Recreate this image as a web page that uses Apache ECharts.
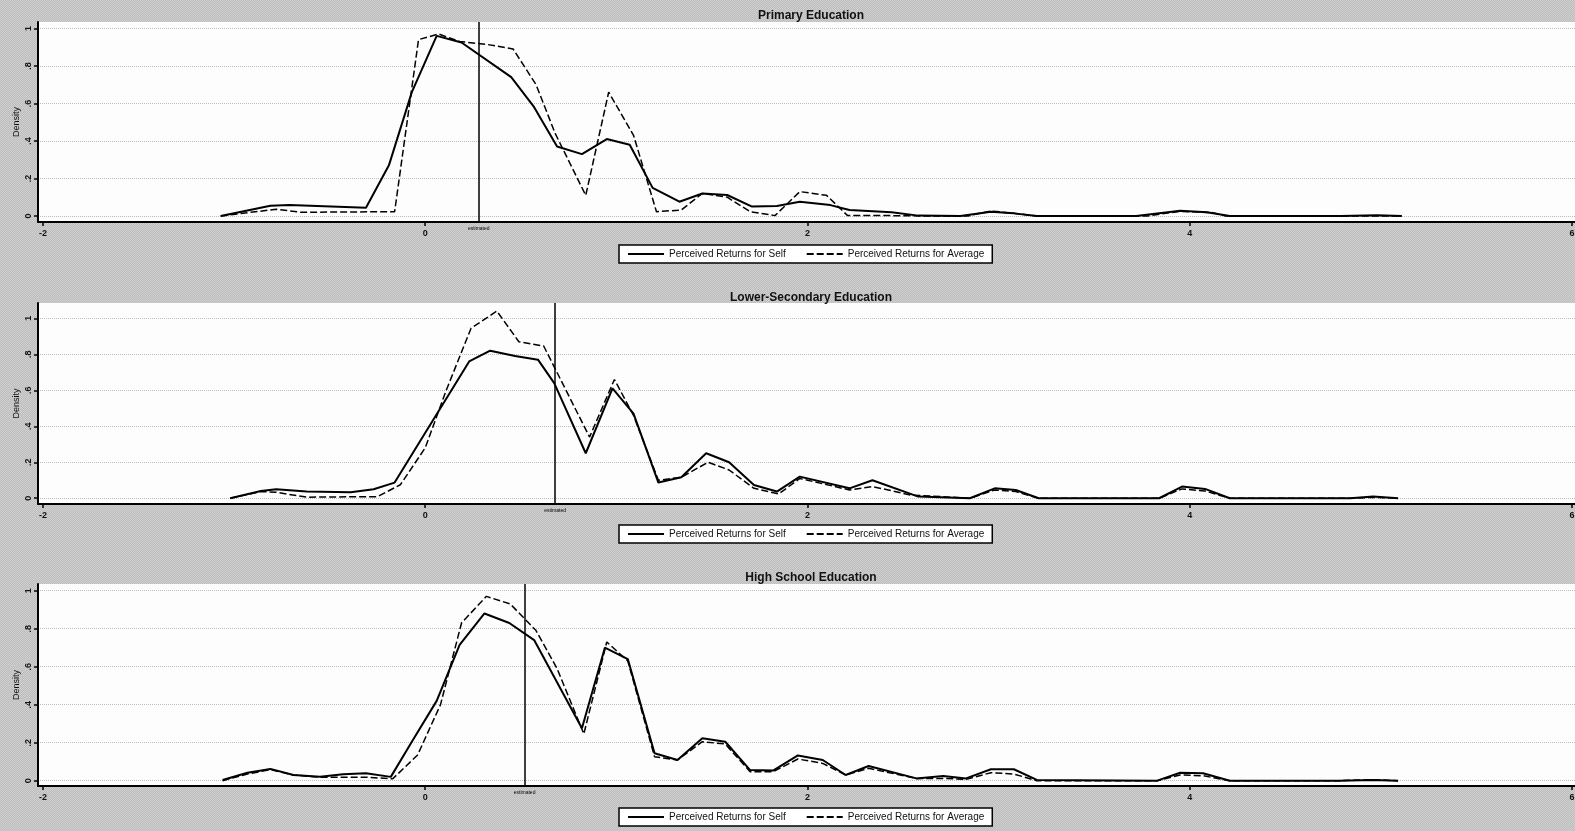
<!DOCTYPE html>
<html><head><meta charset="utf-8">
<script src="https://cdn.jsdelivr.net/npm/echarts@6/dist/echarts.min.js"></script>
<style>
html,body{margin:0;padding:0;width:1575px;height:831px;overflow:hidden;
background-color:#c6c6c6;
background-image:repeating-conic-gradient(#bcbcbc 0 25%, #d0d0d0 0 50%);
background-size:2px 2px;}
#chart{width:1575px;height:831px;}
</style></head><body><div id="chart"></div>
<script>
// ---------------- data ----------------
const panelTitles = ['Primary Education', 'Lower-Secondary Education', 'High School Education'];
const seriesNames = ['Perceived Returns for Self', 'Perceived Returns for Average'];
const xTickValues = [-2, 0, 2, 4, 6];
const yTickValues = [0, 0.2, 0.4, 0.6, 0.8, 1];
const yTickLabels = ['0', '.2', '.4', '.6', '.8', '1'];
const estimatedX = [0.277, 0.675, 0.52];
const estimatedLabel = 'estimated';
const yAxisName = 'Density';

const primarySelf = [[-1.07,0.0],[-0.81,0.055],[-0.71,0.058],[-0.31,0.044],[-0.19,0.27],[-0.07,0.66],[0.06,0.96],[0.19,0.925],[0.45,0.74],[0.57,0.58],[0.69,0.37],[0.82,0.33],[0.95,0.41],[1.07,0.38],[1.19,0.15],[1.33,0.076],[1.45,0.12],[1.58,0.112],[1.71,0.05],[1.84,0.053],[1.96,0.076],[2.12,0.058],[2.22,0.032],[2.44,0.02],[2.58,0.002],[2.80,0.0],[2.96,0.023],[3.08,0.014],[3.2,0.0],[3.72,0.0],[3.95,0.028],[4.09,0.02],[4.21,0.0],[4.79,0.0],[4.98,0.004],[5.11,0.0]];
const primaryAverage = [[-1.07,0.0],[-0.78,0.036],[-0.65,0.02],[-0.16,0.023],[-0.035,0.94],[0.07,0.97],[0.18,0.93],[0.32,0.915],[0.46,0.89],[0.58,0.70],[0.68,0.44],[0.84,0.11],[0.96,0.66],[1.09,0.43],[1.21,0.023],[1.34,0.032],[1.45,0.12],[1.58,0.10],[1.70,0.023],[1.83,0.002],[1.96,0.13],[2.10,0.11],[2.21,0.002],[2.44,0.002],[2.66,0.0],[2.84,0.0],[2.96,0.027],[3.08,0.014],[3.2,0.0],[3.78,0.0],[3.95,0.025],[4.12,0.018],[4.19,0.0],[5.11,0.0]];
const lowerSecSelf = [[-1.02,0],[-0.86,0.04],[-0.78,0.05],[-0.62,0.037],[-0.39,0.033],[-0.27,0.05],[-0.16,0.087],[0.23,0.76],[0.34,0.82],[0.47,0.79],[0.59,0.77],[0.675,0.64],[0.84,0.25],[0.98,0.61],[1.09,0.47],[1.22,0.087],[1.34,0.117],[1.47,0.25],[1.59,0.20],[1.72,0.074],[1.84,0.037],[1.96,0.12],[2.22,0.055],[2.34,0.10],[2.58,0.009],[2.85,0],[2.98,0.055],[3.09,0.046],[3.21,0],[3.84,0],[3.96,0.065],[4.08,0.052],[4.21,0],[4.84,0],[4.96,0.009],[5.09,0]];
const lowerSecAverage = [[-1.02,0],[-0.86,0.037],[-0.78,0.033],[-0.62,0.006],[-0.25,0.009],[-0.13,0.075],[0.0,0.28],[0.11,0.60],[0.24,0.945],[0.375,1.04],[0.49,0.87],[0.62,0.846],[0.86,0.34],[0.99,0.66],[1.09,0.46],[1.22,0.10],[1.34,0.117],[1.48,0.20],[1.59,0.157],[1.72,0.055],[1.85,0.024],[1.96,0.11],[2.22,0.046],[2.34,0.065],[2.54,0.018],[2.85,0],[2.98,0.046],[3.09,0.037],[3.21,0],[3.84,0],[3.96,0.052],[4.08,0.04],[4.21,0],[4.84,0],[4.96,0.005],[5.09,0]];
const highSchoolSelf = [[-1.06,0.004],[-0.93,0.042],[-0.81,0.062],[-0.69,0.03],[-0.55,0.021],[-0.43,0.034],[-0.31,0.039],[-0.18,0.02],[-0.07,0.205],[0.06,0.42],[0.18,0.715],[0.31,0.88],[0.44,0.83],[0.57,0.74],[0.82,0.276],[0.94,0.70],[1.06,0.64],[1.20,0.144],[1.32,0.109],[1.45,0.223],[1.57,0.205],[1.70,0.056],[1.82,0.053],[1.95,0.133],[2.08,0.109],[2.20,0.03],[2.32,0.077],[2.57,0.012],[2.71,0.025],[2.83,0.012],[2.96,0.06],[3.08,0.06],[3.20,0.004],[3.83,0],[3.95,0.042],[4.07,0.039],[4.21,0],[4.78,0],[4.96,0.004],[5.09,0]];
const highSchoolAverage = [[-1.06,0],[-0.93,0.035],[-0.81,0.058],[-0.69,0.03],[-0.55,0.018],[-0.43,0.018],[-0.31,0.018],[-0.17,0.01],[-0.04,0.135],[0.08,0.40],[0.19,0.83],[0.32,0.97],[0.445,0.93],[0.58,0.79],[0.69,0.59],[0.83,0.246],[0.95,0.73],[1.06,0.63],[1.20,0.126],[1.32,0.109],[1.45,0.205],[1.57,0.193],[1.70,0.047],[1.82,0.047],[1.95,0.114],[2.08,0.091],[2.20,0.03],[2.32,0.065],[2.57,0.012],[2.71,0.012],[2.83,0.007],[2.96,0.042],[3.08,0.035],[3.20,0],[3.83,0],[3.95,0.03],[4.07,0.026],[4.21,0],[4.78,0],[4.96,0.005],[5.09,0]];

// ---------------- layout ----------------
const panelData = [[primarySelf, primaryAverage],[lowerSecSelf, lowerSecAverage],[highSchoolSelf, highSchoolAverage]];
const gridTops = [22, 303, 584];
const gridHeights = [200, 201, 202];
const yMins = [-0.032, -0.032, -0.028];
const yMaxs = [1.034, 1.085, 1.035];
const titleTops = [5, 287, 567];
const legendTops = [245, 525, 808];
const xMin = -2.026, xMax = 6.016;

const FONT = 'Liberation Sans, Arial, sans-serif';
const grids = [], xAxes = [], yAxes = [], titles = [], legends = [], series = [];
for (let i = 0; i < 3; i++) {
  grids.push({left: 38, right: 0, top: gridTops[i], height: gridHeights[i], show: true,
    backgroundColor: '#fdfdfd', borderWidth: 0, containLabel: false, outerBoundsMode: 'none'});
  xAxes.push({type: 'value', gridIndex: i, min: xMin, max: xMax,
    axisLine: {show: true, onZero: false, lineStyle: {color: '#000', width: 2}},
    axisTick: {show: true, length: 4, customValues: xTickValues, lineStyle: {color: '#000', width: 1.5}},
    axisLabel: {show: true, customValues: xTickValues, margin: 7, fontSize: 9, fontWeight: 'bold',
      color: '#111', fontFamily: FONT, formatter: v => String(v)},
    splitLine: {show: false}});
  yAxes.push({type: 'value', gridIndex: i, min: yMins[i], max: yMaxs[i],
    name: yAxisName, nameLocation: 'middle', nameGap: 17, nameRotate: 90, nameMoveOverlap: false,
    nameTextStyle: {fontSize: 9, color: '#111', fontFamily: FONT},
    axisLine: {show: true, onZero: false, lineStyle: {color: '#000', width: 2}},
    axisTick: {show: true, length: 4, customValues: yTickValues, lineStyle: {color: '#000', width: 1.5}},
    axisLabel: {show: true, customValues: yTickValues, rotate: 90, margin: 5, fontSize: 9, fontWeight: 'bold',
      color: '#111', fontFamily: FONT,
      formatter: v => yTickLabels[yTickValues.findIndex(t => Math.abs(t - v) < 1e-6)]},
    splitLine: {show: true, lineStyle: {color: '#bdbdbd', width: 1, type: 'dotted'}}});
  titles.push({text: panelTitles[i], left: 806, top: titleTops[i], textAlign: 'center',
    textStyle: {fontSize: 12, fontWeight: 'bold', color: '#111', fontFamily: FONT}});
  legends.push({data: seriesNames, left: 619, top: legendTops[i], orient: 'horizontal',
    backgroundColor: '#fff', borderColor: '#000', borderWidth: 1.5, borderRadius: 0,
    padding: [4, 8, 4, 8], itemGap: 20, itemWidth: 36, itemHeight: 8,
    itemStyle: {opacity: 0},
    textStyle: {fontSize: 10, color: '#111', fontFamily: FONT}});
  const [selfData, avgData] = panelData[i];
  series.push({name: seriesNames[0], type: 'line', xAxisIndex: i, yAxisIndex: i, data: selfData,
    symbol: 'none', showSymbol: false, silent: true, animation: false,
    lineStyle: {color: '#000', width: 2, type: 'solid'}, itemStyle: {color: '#000'},
    markLine: {silent: true, symbol: ['none', 'none'], animation: false,
      lineStyle: {color: '#000', width: 1.5, type: 'solid'},
      label: {show: true, position: 'start', formatter: estimatedLabel, fontSize: 5, color: '#000', distance: 4},
      data: [{xAxis: estimatedX[i]}]}});
  series.push({name: seriesNames[1], type: 'line', xAxisIndex: i, yAxisIndex: i, data: avgData,
    symbol: 'none', showSymbol: false, silent: true, animation: false,
    lineStyle: {color: '#000', width: 1.5, type: [7, 3]}, itemStyle: {color: '#000'}});
}

const chart = echarts.init(document.getElementById('chart'), null, {renderer: 'canvas'});
chart.setOption({backgroundColor: 'transparent', animation: false,
  title: titles, legend: legends, grid: grids, xAxis: xAxes, yAxis: yAxes, series: series});
</script></body></html>
